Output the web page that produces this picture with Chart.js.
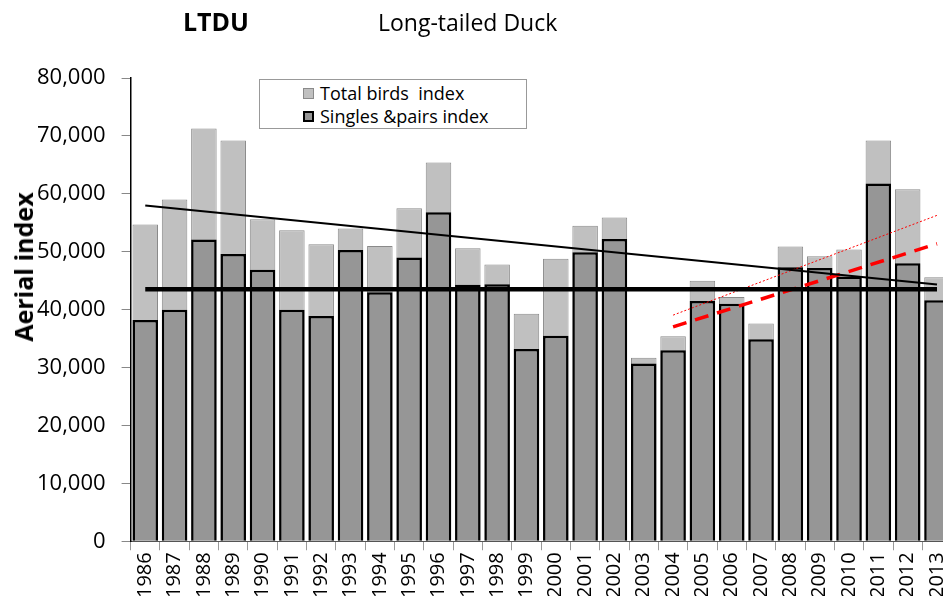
<!DOCTYPE html>
<html>
<head>
<meta charset="utf-8">
<script src="https://cdn.jsdelivr.net/npm/chart.js@4.4.1/dist/chart.umd.min.js"></script>
<style>
    html, body { margin: 0; padding: 0; background: #fff; overflow: hidden; }
    body { width: 943px; height: 596px; position: relative; font-family: 'Open Sans', sans-serif; }
    #wrap { position: absolute; left: 0; top: 0; width: 963px; height: 600px; }
    .title { position: absolute; font-size: 23px; color: #000; white-space: nowrap; }
    #code { left: 183px; top: 4px; font-size: 25px; font-weight: bold; }
    #name { left: 378px; top: 6px; }
    #yTitle {
        position: absolute; left: 23px; top: 267px; font-size: 25px; font-weight: bold;
        transform: translate(-50%, -50%) rotate(-90deg); white-space: nowrap;
    }
    #legend {
        position: absolute; left: 259px; top: 79px; width: 268px; height: 50px;
        border: 1px solid #999; background: #fff; box-sizing: border-box;
        padding: 2px 0 0 43px; font-size: 18px; line-height: 23px;
    }
    #legend .item { display: flex; align-items: center; white-space: nowrap; }
    #legend .box { width: 11px; height: 11px; margin-right: 6px; box-sizing: border-box; }
</style>
</head>
<body>
<div id="wrap"><canvas id="chart" width="963" height="600"></canvas></div>
<div class="title" id="code">LTDU</div>
<div class="title" id="name">Long-tailed Duck</div>
<div id="yTitle">Aerial index</div>
<div id="legend"></div>
<script>
// ========================================
// データ
// ========================================

const years = ['1986', '1987', '1988', '1989', '1990', '1991', '1992', '1993', '1994', '1995',
    '1996', '1997', '1998', '1999', '2000', '2001', '2002', '2003', '2004', '2005',
    '2006', '2007', '2008', '2009', '2010', '2011', '2012', '2013'];

const totalBirds = [54700, 59000, 71300, 69200, 55600, 53700, 51300, 54000, 51000, 57500,
    65400, 50600, 47800, 39300, 48800, 54500, 55900, 31700, 35400, 45000,
    42200, 37600, 50900, 49200, 50400, 69200, 60800, 45600];

const singlesPairs = [38200, 40000, 52100, 49600, 46900, 40000, 38900, 50300, 43000, 49000,
    56800, 44300, 44400, 33200, 35500, 49900, 52200, 30700, 33000, 41500,
    41000, 34900, 47300, 47200, 45700, 61800, 48000, 41600];

// 回帰線の端点
const fullYears = ['1986', '2013'];
const meanLine = [43500, 43500];
const longTrend = [58000, 44350];

const recentYears = ['2004', '2013'];
const recentTotalTrend = [39050, 56280];
const recentSinglesTrend = [37030, 51370];

const yTicks = [0, 10000, 20000, 30000, 40000, 50000, 60000, 70000, 80000];

// ========================================
// ヘルパー
// ========================================

function toPoints(xs, ys) {
    return xs.map((x, i) => ({ x: x, y: ys[i] }));
}

const FONT = "'Open Sans', sans-serif";

// ========================================
// チャート
// ========================================

const ctx = document.getElementById('chart').getContext('2d');

const chart = new Chart(ctx, {
    type: 'bar',
    data: {
        labels: years,
        datasets: [
            {
                type: 'line',
                label: 'mean',
                data: toPoints(fullYears, meanLine),
                borderColor: '#000',
                borderWidth: 4.5,
                pointRadius: 0,
                order: 1
            },
            {
                type: 'line',
                label: 'trend',
                data: toPoints(fullYears, longTrend),
                borderColor: '#000',
                borderWidth: 2,
                pointRadius: 0,
                order: 1
            },
            {
                type: 'line',
                label: 'recent total',
                data: toPoints(recentYears, recentTotalTrend),
                borderColor: '#ff0000',
                borderWidth: 1,
                borderDash: [2, 2],
                pointRadius: 0,
                order: 1
            },
            {
                type: 'line',
                label: 'recent singles',
                data: toPoints(recentYears, recentSinglesTrend),
                borderColor: '#ff0000',
                borderWidth: 3.5,
                borderDash: [14, 9],
                pointRadius: 0,
                order: 1
            },
            {
                label: 'Singles &pairs index',
                data: singlesPairs,
                backgroundColor: '#969696',
                borderColor: '#000',
                borderWidth: 2.5,
                grouped: false,
                barPercentage: 0.87,
                categoryPercentage: 1,
                order: 2
            },
            {
                label: 'Total birds  index',
                data: totalBirds,
                backgroundColor: '#c0c0c0',
                borderColor: '#8a8a8a',
                borderWidth: 1,
                grouped: false,
                barPercentage: 0.87,
                categoryPercentage: 1,
                order: 3
            }
        ]
    },
    options: {
        responsive: false,
        animation: false,
        devicePixelRatio: 1,
        layout: { padding: { left: 21, top: 78, right: 0, bottom: 0 } },
        plugins: {
            legend: { display: false },
            tooltip: { enabled: false }
        },
        scales: {
            x: {
                offset: true,
                grid: {
                    offset: true,
                    drawOnChartArea: false,
                    tickLength: 9,
                    color: '#999'
                },
                border: { color: '#555', width: 1 },
                ticks: {
                    minRotation: 90,
                    maxRotation: 90,
                    autoSkip: false,
                    padding: 2,
                    color: '#000',
                    font: { family: FONT, size: 20 }
                }
            },
            y: {
                min: 0,
                max: 80000,
                afterBuildTicks: (scale) => {
                    scale.ticks = yTicks.map(v => ({ value: v }));
                },
                grid: {
                    drawOnChartArea: false,
                    tickLength: 9,
                    color: '#888'
                },
                border: { color: '#000', width: 1.5 },
                ticks: {
                    padding: 16,
                    color: '#000',
                    font: { family: FONT, size: 22 },
                    callback: (value) => value.toLocaleString('en-US')
                }
            }
        }
    }
});

// ========================================
// 凡例（HTML）
// ========================================

const legendEl = document.getElementById('legend');
chart.data.datasets
    .filter(ds => ds.type !== 'line')
    .reverse()
    .forEach(ds => {
        const item = document.createElement('div');
        item.className = 'item';
        const box = document.createElement('span');
        box.className = 'box';
        box.style.background = ds.backgroundColor;
        box.style.border = `${Math.floor(ds.borderWidth)}px solid ${ds.borderColor}`;
        const text = document.createElement('span');
        text.textContent = ds.label;
        text.style.whiteSpace = 'pre';
        item.appendChild(box);
        item.appendChild(text);
        legendEl.appendChild(item);
    });
</script>
</body>
</html>
